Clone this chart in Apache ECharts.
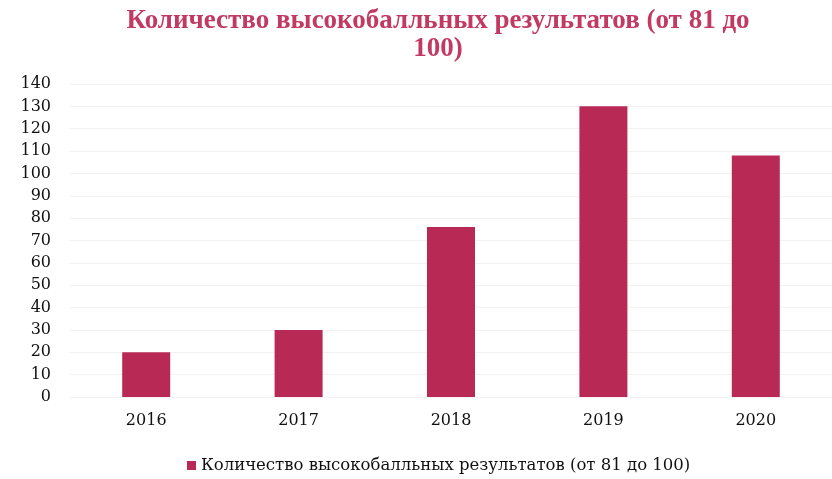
<!DOCTYPE html>
<html><head><meta charset="utf-8">
<script src="https://cdn.jsdelivr.net/npm/echarts@6/dist/echarts.min.js"></script>
<style>html,body{margin:0;padding:0;background:#fff}#c{width:832px;height:479px}</style>
</head><body><div id="c"></div>
<script>
const categories = ['2016', '2017', '2018', '2019', '2020'];
const values = [20, 30, 76, 130, 108];
const seriesName = 'Количество высокобалльных результатов (от 81 до 100)';
const titleText = 'Количество высокобалльных результатов (от 81 до\n100)';

const chart = echarts.init(document.getElementById('c'));
chart.setOption({
  animation: false,
  title: {
    text: titleText,
    left: 433, top: 2, textAlign: 'center',
    textStyle: { fontFamily: 'Liberation Serif', fontWeight: 'bold', fontSize: 27, color: '#c23a62', lineHeight: 28 }
  },
  legend: {
    top: 452, left: 182,
    itemWidth: 9, itemHeight: 9, itemGap: 6,
    icon: 'rect',
    textStyle: { fontFamily: 'DejaVu Serif', fontSize: 16.5, color: '#111' },
    data: [seriesName]
  },
  grid: { left: 70, top: 84, width: 764, bottom: 82 },
  xAxis: {
    type: 'category', data: categories,
    axisLine: { show: false }, axisTick: { show: false },
    axisLabel: { fontFamily: 'DejaVu Serif', fontSize: 16, color: '#111', margin: 16 }
  },
  yAxis: {
    type: 'value', min: 0, max: 140, interval: 10,
    axisLine: { show: false }, axisTick: { show: false },
    splitLine: { lineStyle: { color: '#f2f2f2', width: 1 } },
    axisLabel: { fontFamily: 'DejaVu Serif', fontSize: 16, color: '#111', margin: 19 }
  },
  series: [{
    name: seriesName, type: 'bar', data: values, barWidth: 48,
    itemStyle: { color: '#b82a55' }
  }]
});
</script></body></html>
